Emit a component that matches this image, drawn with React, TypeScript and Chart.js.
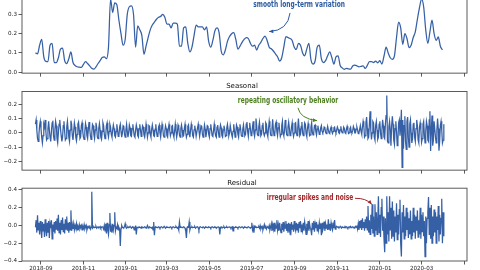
import { useEffect, useRef } from 'react';
import { Chart, registerables } from 'chart.js';

Chart.register(...registerables);

// Daily series starting on this date; trend is stored every TREND_STEP days.
const START_DATE = Date.UTC(2018, 7, 24);
const DAY_MS = 86400000;
const TREND_STEP = 3;

const trend = [
  0.10, 0.095, 0.14, 0.17, 0.08, 0.056, 0.055, 0.14, 0.15, 0.05,
  0.05, 0.075, 0.12, 0.125, 0.06, 0.045, 0.07, 0.105, 0.05, 0.035,
  0.028, 0.026, 0.025, 0.04, 0.055, 0.045, 0.033, 0.02, 0.016, 0.027,
  0.045, 0.06, 0.076, 0.08, 0.07, 0.13, 0.38, 0.31, 0.36, 0.35,
  0.27, 0.2, 0.14, 0.17, 0.3, 0.34, 0.345, 0.3, 0.13, 0.24,
  0.22, 0.19, 0.093, 0.135, 0.18, 0.22, 0.245, 0.26, 0.275, 0.285,
  0.29, 0.3, 0.285, 0.25, 0.25, 0.23, 0.255, 0.255, 0.25, 0.135,
  0.135, 0.23, 0.235, 0.15, 0.105, 0.13, 0.19, 0.245, 0.235, 0.235,
  0.235, 0.22, 0.235, 0.16, 0.13, 0.165, 0.215, 0.23, 0.205, 0.11,
  0.09, 0.115, 0.16, 0.185, 0.2, 0.205, 0.17, 0.12, 0.135, 0.155,
  0.17, 0.18, 0.175, 0.15, 0.135, 0.14, 0.115, 0.14, 0.155, 0.175,
  0.187, 0.165, 0.13, 0.122, 0.11, 0.095, 0.08, 0.058, 0.075, 0.13,
  0.185, 0.18, 0.175, 0.165, 0.13, 0.118, 0.15, 0.14, 0.1, 0.085,
  0.12, 0.15, 0.065, 0.042, 0.058, 0.13, 0.14, 0.07, 0.05, 0.06,
  0.085, 0.105, 0.076, 0.042, 0.08, 0.085, 0.035, 0.022, 0.015, 0.02,
  0.017, 0.016, 0.032, 0.036, 0.033, 0.028, 0.03, 0.033, 0.02, 0.035,
  0.055, 0.055, 0.05, 0.058, 0.048, 0.06, 0.042, 0.084, 0.13, 0.1,
  0.075, 0.067, 0.085, 0.18, 0.26, 0.23, 0.145, 0.2, 0.175, 0.128,
  0.14, 0.18, 0.21, 0.275, 0.335, 0.38, 0.34, 0.22, 0.15, 0.21,
  0.27, 0.2, 0.165, 0.183, 0.135, 0.115,
];

// one row per week
const seasonal = [
  .06, .09, .02, -.04, -.06, -.01, .05,
  .08, .03, -.03, -.07, -.02, .06, .04,
  .09, .01, -.05, -.04, .03, .08, .02,
  -.03, -.06, .01, .07, .085, -.02, -.05,
  .02, .08, .05, -.04, -.07, .0, .06,
  .09, .03, -.02, -.06, -.03, .05, .08,
  .01, -.05, -.04, .04, .08, .02, -.03,
  -.06, .02, .085, .06, -.02, -.05, .01,
  .07, .04, -.03, -.055, -.01, .06, .075,
  .02, -.04, -.03, .05, .07, .01, -.03,
  -.045, .01, .065, .04, -.02, -.04, .02,
  .075, .03, -.02, -.045, .0, .06, .05,
  -.01, -.04, .02, .07, .04, -.03, -.04,
  .03, .065, .02, -.03, -.045, .01, .07,
  .05, -.01, -.04, -.02, .05, .07, .0,
  -.03, .01, .06, .04, -.01, -.03, .02,
  .055, .03, -.02, -.03, .01, .06, .02,
  -.025, -.02, .04, .06, .01, -.03, .0,
  .05, .045, -.01, -.03, .02, .06, .01,
  -.03, .0, .055, .035, -.02, -.025, .03,
  .06, .02, -.02, -.03, .02, .055, .03,
  -.02, -.03, .03, .06, .02, -.025, .01,
  .05, .04, -.015, -.03, .01, .06, .02,
  -.03, .0, .05, .045, -.01, -.03, .025,
  .055, .02, -.02, -.025, .025, .06, .01,
  -.025, -.02, .04, .055, .0, -.03, .02,
  .06, .03, -.02, -.03, .015, .05, .03,
  -.02, -.03, .03, .06, .02, -.02, .0,
  .045, .05, -.01, -.03, .01, .06, .015,
  -.03, .0, .055, .04, -.015, -.03, .03,
  .055, .02, -.025, -.02, .03, .06, .005,
  -.03, -.01, .045, .055, -.005, -.03, .02,
  .06, .03, -.02, -.03, .02, .05, .02,
  -.025, -.025, .035, .06, .015, -.025, .01,
  .05, .045, -.01, -.03, .01, .055, .025,
  -.03, .005, .05, .045, -.01, -.03, .03,
  .06, .02, -.02, -.025, .02, .06, .01,
  -.02, -.03, .04, .055, .005, -.03, .02,
  .055, .035, -.02, -.03, .02, .05, .025,
  -.025, -.02, .035, .06, .02, -.02, .0,
  .05, .05, -.01, -.03, .01, .06, .015,
  -.03, .0, .055, .04, -.01, -.03, .025,
  .06, .025, -.02, -.025, .025, .055, .01,
  -.02, -.01, .06, .075, .01, -.025, .03,
  .07, .03, -.02, -.015, .04, .08, .0,
  -.025, .02, .1, .05, -.01, -.02, .04,
  .075, .02, -.02, -.01, .05, .07, .0,
  -.02, .0, .07, .06, -.005, -.025, .03,
  .08, .04, -.015, -.02, .03, .095, .02,
  -.02, -.01, .06, .075, .01, -.02, .035,
  .07, .02, -.025, -.01, .05, .08, .0,
  -.02, .01, .09, .05, -.01, -.02, .04,
  .075, .03, -.02, -.015, .04, .07, .005,
  -.025, .0, .065, .07, .0, -.02, .03,
  .1, .03, -.02, -.01, .045, .075, .0,
  -.02, .01, .07, .06, -.005, -.025, .03,
  .065, .03, -.02, -.015, .04, .07, .005,
  -.015, .0, .05, .055, .01, -.015, .025,
  .05, .02, -.01, -.005, .035, .05, .01,
  .0, .01, .04, .035, .005, -.005, .02,
  .045, .02, .0, -.005, .025, .04, .01,
  -.005, .01, .035, .04, .01, .0, .02,
  .04, .025, .0, -.005, .02, .045, .01,
  .0, .005, .04, .03, .0, -.005, .025,
  .045, .02, -.005, .0, .03, .04, .005,
  .0, .015, .045, .03, .0, .0, .025,
  .04, .02, -.005, .0, .025, .05, .01,
  -.01, .04, .08, .05, -.03, -.02, .07,
  .11, .03, -.04, -.03, .06, .15, .02,
  -.046, .0, .08, .07, -.03, -.05, .05,
  .08, .02, -.045, -.03, .06, .08, .0,
  -.04, .02, .09, .05, -.03, -.04, .06,
  .12, .26, -.06, -.07, .04, .08, .02,
  -.09, .05, .115, .06, -.05, -.08, .03,
  .08, .01, -.09, -.05, .07, .09, -.02,
  .04, .16, -.24, .09, -.11, .05, .115,
  -.06, -.115, .08, .11, -.03, -.1, .06,
  .09, .0, -.07, -.04, .06, .07, -.03,
  -.06, .03, .09, .05, -.05, -.07, .04,
  .07, .02, -.065, -.04, .06, .08, -.01,
  -.07, .01, .08, .05, -.05, -.06, .09,
  .15, -.127, .02, .12, -.09, -.05, .08,
  .08, -.03, -.07, .02, .1, .03, -.125,
  -.06, .05, .08, .02, -.07, -.05, .06,
];

// two weeks per row
const residual = [
  -.02, .06, -.08, .116, -.05, .03, -.1, .05, -.04, -.14, .04, -.06, .02, -.13,
  .07, -.05, -.12, .03, -.08, .05, -.14, .02, -.03, .06, -.15, .01, -.07, .04,
  -.09, .05, -.04, .08, -.06, .12, -.08, .03, -.1, .06, -.05, .09, -.07, .02,
  -.09, .07, -.04, .1, -.06, .03, -.08, .04, -.05, .17, -.06, .01, -.04, .02,
  -.05, .0, -.03, .02, -.05, -.01, -.03, .01, -.04, -.02, .0, -.05, -.01, -.03,
  .01, -.04, -.02, .0, -.05, -.02, -.01, -.03, .0, -.04, -.02, .38, -.03, -.02,
  -.015, -.025, -.02, -.01, -.03, -.02, -.015, -.025, -.02, -.01, -.03, -.02, -.015, -.02,
  -.04, .0, -.06, .02, -.09, .03, -.05, -.1, .01, .14, -.07, -.02, -.08, .02,
  -.05, .0, .15, -.06, -.02, -.03, .01, -.05, -.02, -.04, -.23, -.03, .0, -.02,
  -.02, -.025, -.015, .02, -.02, -.03, -.02, -.015, -.025, -.02, -.01, -.02, -.03, -.02,
  -.015, -.02, -.05, -.02, -.01, -.1, -.02, -.02, -.025, -.015, -.02, -.02, -.03, -.015,
  -.02, -.025, -.02, -.015, -.02, -.03, -.02, .0, -.02, -.025, -.015, -.02, -.02, -.03,
  -.02, -.05, .04, -.11, -.02, -.015, -.02, -.025, -.02, -.015, -.02, -.03, -.02, -.015,
  -.02, -.025, -.02, -.01, -.02, -.03, -.02, -.015, -.02, -.02, -.025, -.02, -.015, -.02,
  -.03, -.02, -.015, -.02, -.025, -.02, -.01, -.02, -.03, -.02, -.05, .04, -.02, -.015,
  -.02, -.025, -.02, -.015, -.02, -.03, -.06, -.14, -.02, -.015, -.02, .04, -.05, -.02,
  -.02, -.015, -.025, -.02, -.02, -.015, -.03, -.02, -.02, -.015, -.025, -.05, -.02, -.015,
  -.02, -.02, -.025, -.015, -.02, -.03, -.02, -.015, -.02, -.025, -.02, -.015, -.02, -.02,
  -.03, -.02, -.015, -.02, -.025, -.02, -.015, -.02, -.03, -.02, -.02, -.015, -.02, -.1,
  -.02, -.015, -.025, -.02, -.02, -.015, -.03, -.02, -.02, -.015, -.025, -.02, -.02, -.015,
  -.02, -.03, -.02, -.015, -.06, -.02, -.025, -.02, -.015, -.02, -.02, -.03, -.02, -.015,
  -.02, -.025, -.02, -.015, -.02, -.03, -.02, -.015, -.02, -.02, -.025, -.02, -.015, -.02,
  -.02, -.03, -.02, .03, -.05, -.02, -.08, -.01, -.02, -.015, -.025, -.02, -.02, -.015,
  -.03, .0, -.04, -.02, -.01, -.05, -.02, .01, -.03, -.02, -.04, -.01, -.02, -.03,
  .0, -.05, -.02, .02, -.06, .01, -.04, .03, -.07, .0, -.03, .06, -.05, .01,
  -.06, .03, -.04, -.08, .02, -.05, .04, -.07, .01, -.03, .05, -.06, .02, -.08,
  .03, -.05, .02, -.11, .04, -.04, .01, -.07, .05, -.03, -.06, .03, -.05, .02,
  -.08, .04, -.03, .05, -.07, .01, -.05, .03, -.06, .04, -.02, -.1, .02, -.04,
  .05, -.06, .02, -.03, -.05, -.11, .03, -.04, .05, -.07, .02, -.03, .04, -.06,
  .01, -.05, .03, -.04, .02, -.11, .03, -.05, -.02, .045, -.06, .02, -.03, .01,
  -.05, .07, -.04, .02, -.06, .03, -.02, -.05, .01, -.03, .06, -.04, -.02, -.01,
  -.02, -.015, -.025, -.02, -.01, -.02, -.03, -.015, -.02, -.02, -.025, -.01, -.02, -.015,
  -.02, -.03, -.02, -.015, -.02, -.01, -.025, -.02, -.015, -.02, -.03, -.02, -.01, -.02,
  .0, -.04, .02, -.05, .05, -.03, .06, -.05, .08, -.02, .04, -.06, .07, -.03,
  .1, -.05, .22, -.08, .06, -.1, .12, -.04, .24, -.09, .1, -.12, .24, -.06,
  .15, -.1, .05, .33, -.08, .12, -.13, .2, .3, -.06, .1, -.15, -.3, .08,
  -.2, .33, -.1, .15, -.18, .33, -.05, .2, -.15, .27, -.12, .17, -.18, .1,
  -.08, .25, -.16, .12, -.1, .18, .29, -.2, -.35, .15, -.08, .23, -.15, .1,
  -.12, .2, -.05, .15, -.14, .08, -.1, .17, -.15, .05, -.12, .2, -.08, .12,
  -.15, .1, -.06, .17, -.13, .06, -.1, .2, -.15, .12, -.07, .15, -.12, .05,
  -.35, .1, -.2, .08, .15, .32, -.1, .2, -.15, .23, -.2, .1, -.12, .18,
  -.08, .15, -.2, .1, -.05, .22, -.18, .12, -.1, .08, .3, -.2, .15, -.12,
];

const monthTicks = [
  '2018-09', '2018-11', '2019-01', '2019-03', '2019-05', '2019-07',
  '2019-09', '2019-11', '2020-01', '2020-03', '2020-05',
];
const trendTicks = [0, 0.1, 0.2, 0.3];
const seasonalTicks = [-0.2, -0.1, 0, 0.1, 0.2];
const residualTicks = [-0.4, -0.2, 0, 0.2, 0.4];

const LINE = '#3560a6';
const FRAME = '#4a4a4a';
const TEXT = '#222';
const TICK_FONT = { family: '"DejaVu Sans", sans-serif', size: 5.6 };
const TITLE_FONT = '7px "DejaVu Sans", sans-serif';
const NOTE_FONT = 'bold 8px "DejaVu Sans Condensed", sans-serif';
const NOTE_SQUEEZE = 0.82;
const X_MIN = -19.3;
const X_MAX = 620.3;

const dayOf = (ym: string) => {
  const [y, m] = ym.split('-').map(Number);
  return (Date.UTC(y, m - 1, 1) - START_DATE) / DAY_MS;
};
const monthDays = monthTicks.map(dayOf);
const lastDay = seasonal.length - 1;

const fmt = (v: number) => {
  const s = Math.abs(v).toFixed(1);
  return v < -1e-9 ? '\u2212' + s : s;
};

type Note = {
  text: string;
  color: string;
  at: [number, number];
  from: [number, number];
  via: [number, number];
  to: [number, number];
};

type PanelSpec = {
  values: number[];
  step: number;
  smooth: boolean;
  yMin: number;
  yMax: number;
  yTicks: number[];
  title?: string;
  notes: Note[];
  padTop: number;
  xAxisH: number;
  showXLabels: boolean;
};

function drawNote(chart: any, n: Note) {
  const { ctx, scales } = chart;
  const px = (p: [number, number]) => [scales.x.getPixelForValue(p[0]), scales.y.getPixelForValue(p[1])];
  const [tx, ty] = px(n.at);
  const [fx, fy] = px(n.from);
  const [cx, cy] = px(n.via);
  const [ex, ey] = px(n.to);
  ctx.fillStyle = n.color;
  ctx.strokeStyle = n.color;
  ctx.font = NOTE_FONT;
  ctx.textAlign = 'center';
  ctx.textBaseline = 'middle';
  ctx.save();
  ctx.translate(tx, ty);
  ctx.scale(NOTE_SQUEEZE, 1);
  ctx.fillText(n.text, 0, 0);
  ctx.restore();
  ctx.lineWidth = 1;
  ctx.beginPath();
  ctx.moveTo(fx, fy);
  ctx.quadraticCurveTo(cx, cy, ex, ey);
  ctx.stroke();
  const ang = Math.atan2(ey - cy, ex - cx);
  const len = 4.5;
  const half = 0.42;
  ctx.beginPath();
  ctx.moveTo(ex, ey);
  ctx.lineTo(ex - len * Math.cos(ang - half), ey - len * Math.sin(ang - half));
  ctx.lineTo(ex - len * Math.cos(ang + half), ey - len * Math.sin(ang + half));
  ctx.closePath();
  ctx.fill();
}

function makeChart(canvas: HTMLCanvasElement, p: PanelSpec) {
  const points = p.values.map((v, i) => ({ x: i * p.step, y: v }));
  const decor = {
    id: 'decor',
    afterDatasetsDraw(chart: any) {
      const { ctx, chartArea: a } = chart;
      ctx.save();
      ctx.strokeStyle = FRAME;
      ctx.lineWidth = 0.9;
      ctx.strokeRect(a.left, a.top, a.right - a.left, a.bottom - a.top);
      if (p.title) {
        ctx.fillStyle = '#111';
        ctx.font = TITLE_FONT;
        ctx.textAlign = 'center';
        ctx.textBaseline = 'alphabetic';
        ctx.fillText(p.title, (a.left + a.right) / 2 - 2.5, a.top - 3.3);
      }
      p.notes.forEach((n) => drawNote(chart, n));
      ctx.restore();
    },
  };
  const grid = {
    drawOnChartArea: false,
    drawTicks: true,
    tickLength: 3.5,
    tickColor: FRAME,
    tickWidth: 0.9,
    color: FRAME,
  };
  return new Chart(canvas, {
    type: 'line',
    data: {
      datasets: [
        {
          data: points,
          borderColor: LINE,
          borderWidth: 1.25,
          pointRadius: 0,
          fill: false,
          tension: p.smooth ? 0.3 : 0,
          cubicInterpolationMode: p.smooth ? 'monotone' : 'default',
        },
      ],
    },
    options: {
      animation: false,
      responsive: false,
      events: [],
      layout: { padding: { top: p.padTop, left: 0, right: 13, bottom: 0 } },
      plugins: { legend: { display: false }, tooltip: { enabled: false }, title: { display: false } },
      scales: {
        x: {
          type: 'linear',
          min: X_MIN,
          max: X_MAX,
          afterBuildTicks: (s: any) => {
            s.ticks = monthDays.map((v) => ({ value: v }));
          },
          afterFit: (s: any) => {
            s.height = p.xAxisH;
          },
          grid,
          border: { display: false },
          ticks: {
            display: p.showXLabels,
            autoSkip: false,
            maxRotation: 0,
            padding: 1,
            color: TEXT,
            font: TICK_FONT,
            callback: (v: any) => {
              const i = monthDays.indexOf(Number(v));
              return i >= 0 && monthDays[i] <= lastDay ? monthTicks[i] : '';
            },
          },
        },
        y: {
          type: 'linear',
          min: p.yMin,
          max: p.yMax,
          afterBuildTicks: (s: any) => {
            s.ticks = p.yTicks.map((v) => ({ value: v }));
          },
          afterFit: (s: any) => {
            s.width = 22;
          },
          grid,
          border: { display: false },
          ticks: { padding: 1.5, color: TEXT, font: TICK_FONT, callback: (v: any) => fmt(Number(v)) },
        },
      },
    },
    plugins: [decor],
  } as any);
}

const trendNotes: Note[] = [
  {
    text: 'smooth long-term variation',
    color: '#2b5aa0',
    at: [379, 0.35],
    from: [366, 0.308],
    via: [363, 0.216],
    to: [336, 0.211],
  },
];
const seasonalNotes: Note[] = [
  {
    text: 'repeating oscillatory behavior',
    color: '#4c7f1f',
    at: [363, 0.225],
    from: [377.4, 0.174],
    via: [380.3, 0.099],
    to: [404.7, 0.085],
  },
];
const residualNotes: Note[] = [
  {
    text: 'irregular spikes and noise',
    color: '#a3282b',
    at: [394.7, 0.31],
    from: [459.3, 0.306],
    via: [475.2, 0.31],
    to: [483.4, 0.239],
  },
];

export default function App() {
  const c1 = useRef<HTMLCanvasElement>(null);
  const c2 = useRef<HTMLCanvasElement>(null);
  const c3 = useRef<HTMLCanvasElement>(null);

  useEffect(() => {
    const charts = [
      makeChart(c1.current!, {
        values: trend, step: TREND_STEP, smooth: true, yMin: -0.005, yMax: 0.4, yTicks: trendTicks,
        notes: trendNotes, padTop: 7.2, xAxisH: 4, showXLabels: false,
      }),
      makeChart(c2.current!, {
        values: seasonal, step: 1, smooth: false, yMin: -0.26, yMax: 0.288, yTicks: seasonalTicks,
        title: 'Seasonal', notes: seasonalNotes, padTop: 11.5, xAxisH: 4, showXLabels: false,
      }),
      makeChart(c3.current!, {
        values: residual, step: 1, smooth: false, yMin: -0.4, yMax: 0.42, yTicks: residualTicks,
        title: 'Residual', notes: residualNotes, padTop: 13.2, xAxisH: 9, showXLabels: true,
      }),
    ];
    return () => charts.forEach((c) => c.destroy());
  }, []);

  return (
    <div style={{ position: 'fixed', left: 0, top: 0, width: 480, height: 270, overflow: 'hidden', background: '#fff' }}>
      <canvas ref={c1} width={480} height={90} style={{ position: 'absolute', left: 0, top: -12 }} />
      <canvas ref={c2} width={480} height={95} style={{ position: 'absolute', left: 0, top: 80 }} />
      <canvas ref={c3} width={480} height={95} style={{ position: 'absolute', left: 0, top: 175 }} />
    </div>
  );
}
